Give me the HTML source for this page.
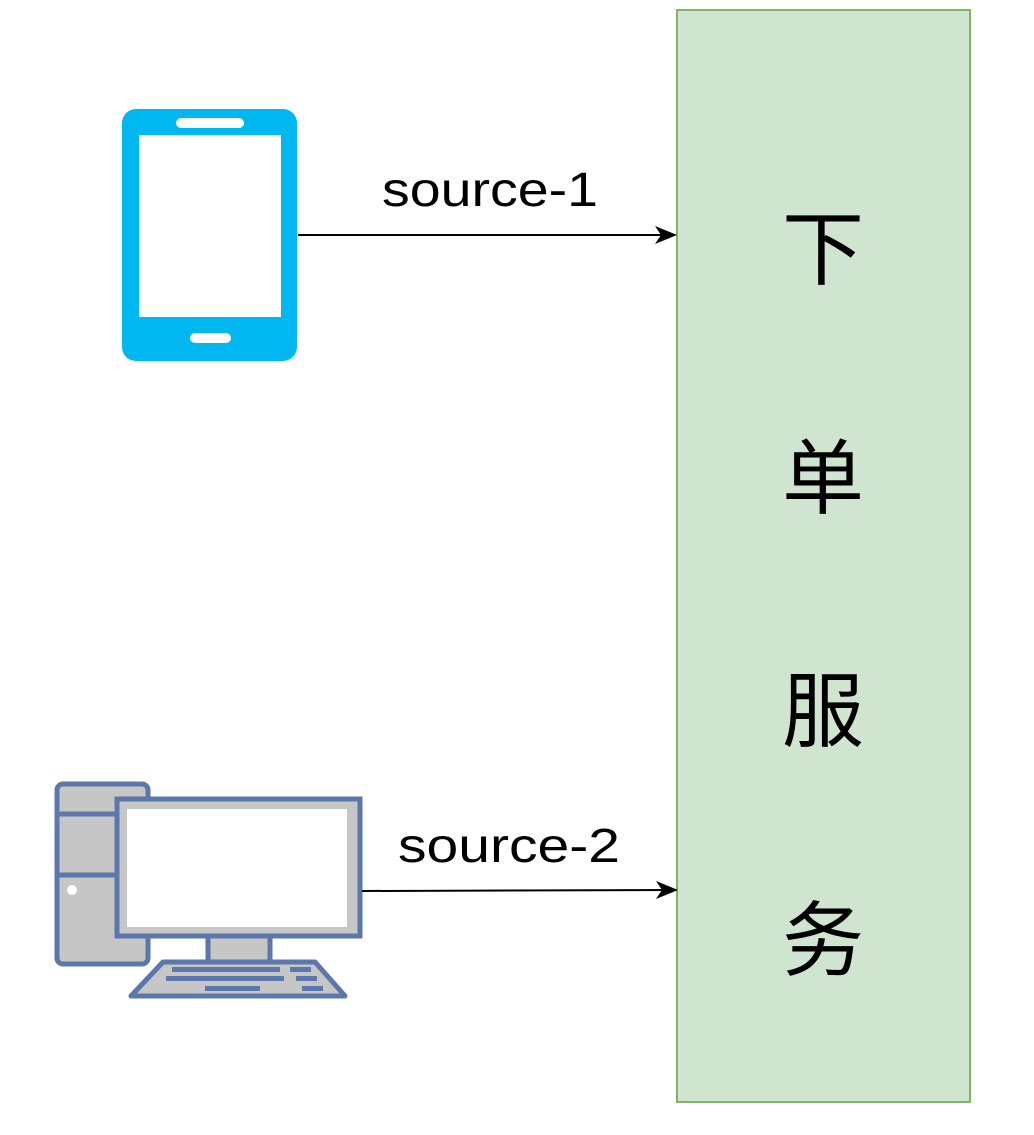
<!DOCTYPE html>
<html><head><meta charset="utf-8"><style>html,body{margin:0;padding:0;background:#fff}</style></head>
<body>
<svg width="1034" height="1130" viewBox="0 0 1034 1130" xmlns="http://www.w3.org/2000/svg">
<rect x="677" y="10" width="293" height="1092" fill="#d0e5cf" stroke="#82b366" stroke-width="2"/>
<g font-family="'Noto Sans CJK SC', sans-serif" font-size="82" fill="#000" text-anchor="middle">
<text x="823" y="278">下</text>
<text x="823" y="507">单</text>
<text x="823" y="740">服</text>
<text x="823" y="969">务</text>
</g>
<!-- phone -->
<rect x="122" y="109" width="175" height="252" rx="14" fill="#00b7f0"/>
<rect x="139" y="135" width="142" height="182" fill="#fff"/>
<rect x="176" y="118" width="68" height="10" rx="5" fill="#fff"/>
<rect x="190" y="333" width="41" height="10" rx="5" fill="#fff"/>
<!-- computer -->
<rect x="57" y="784" width="91" height="180" rx="6" fill="#c6c6c6" stroke="#5b77ab" stroke-width="5"/>
<line x1="57" y1="814" x2="120" y2="814" stroke="#5b77ab" stroke-width="5"/>
<line x1="57" y1="875" x2="120" y2="875" stroke="#5b77ab" stroke-width="5"/>
<circle cx="72" cy="890" r="5" fill="#fff"/>
<rect x="208" y="936" width="62" height="26" fill="#c6c6c6" stroke="#5b77ab" stroke-width="5"/>
<rect x="117" y="799" width="243" height="137" fill="#c6c6c6" stroke="#5b77ab" stroke-width="5"/>
<rect x="127" y="809" width="220" height="118" fill="#fff"/>
<polygon points="163,962 315,962 345,996 131,996" fill="#c6c6c6" stroke="#5b77ab" stroke-width="5" stroke-linejoin="round"/>
<g fill="#5b77ab">
<rect x="172" y="967" width="108" height="5"/><rect x="290" y="967" width="21" height="5"/>
<rect x="166" y="976" width="118" height="5"/><rect x="296" y="976" width="21" height="5"/>
<rect x="205" y="986" width="55" height="5"/><rect x="302" y="986" width="21" height="5"/>
</g>
<!-- arrows -->
<line x1="298" y1="235" x2="668" y2="235" stroke="#000" stroke-width="2"/>
<polygon points="677,235 655,226 661,235 655,244" fill="#000"/>
<line x1="362" y1="891" x2="668" y2="890" stroke="#000" stroke-width="2"/>
<polygon points="678,890 656,881 662,890 656,899" fill="#000"/>
<g font-family="'Liberation Sans', Arial, sans-serif" font-size="48" fill="#000">
<text x="382" y="206" textLength="216" lengthAdjust="spacingAndGlyphs">source-1</text>
<text x="398" y="862" textLength="222" lengthAdjust="spacingAndGlyphs">source-2</text>
</g>
</svg>
</body></html>
